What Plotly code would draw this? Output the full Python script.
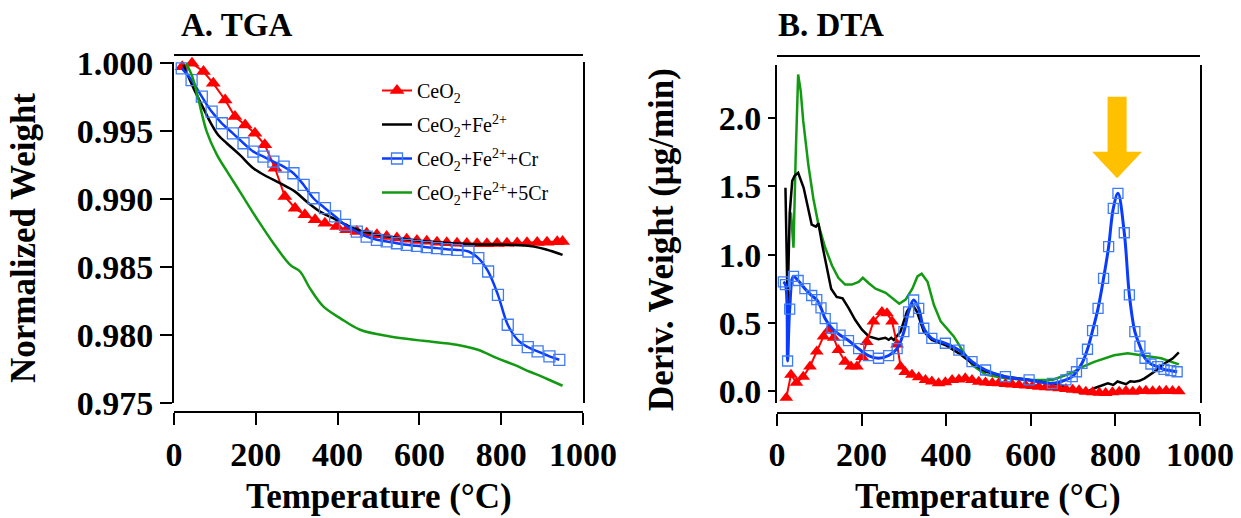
import plotly.graph_objects as go

# ---------------- data: A. TGA ----------------
tga_red_T = [20, 44, 72, 96, 125, 149, 174, 198, 222, 247, 271, 296, 320, 345, 369, 398, 422, 447, 471, 496,
             520, 545, 569, 594, 618, 643, 667, 692, 716, 741, 765, 790, 814, 839, 863, 888, 912, 937, 950]
tga_red_W = [0.99975, 1.0000, 0.99940, 0.99853, 0.99730, 0.99608, 0.99547, 0.99485, 0.99400, 0.99228,
             0.99020, 0.98934, 0.98885, 0.98848, 0.98824, 0.98799, 0.98775, 0.98762, 0.98750, 0.98738,
             0.98725, 0.98715, 0.98705, 0.98697, 0.98690, 0.98684, 0.98680, 0.98676, 0.98674, 0.98672,
             0.98672, 0.98674, 0.98676, 0.98678, 0.98680, 0.98682, 0.98684, 0.98686, 0.98688]

tga_black_T = [23, 48, 72, 88, 108, 129, 161, 194, 227, 259, 296, 324, 357, 389, 438, 487, 569, 650, 732,
               800, 850, 880, 910, 950]
tga_black_W = [0.99988, 0.99816, 0.99669, 0.99571, 0.99473, 0.99412, 0.99326, 0.99228, 0.99167, 0.99118,
               0.99056, 0.98983, 0.98909, 0.98860, 0.98787, 0.98745, 0.98706, 0.98681, 0.98669, 0.98666,
               0.98662, 0.98651, 0.98630, 0.98590]

tga_blue_T = [19, 43, 68, 92, 117, 144, 170, 194, 219, 243, 268, 292, 317, 341, 369, 394, 418, 447, 471, 496,
              520, 545, 569, 594, 618, 643, 667, 692, 720, 744, 768, 792, 816, 840, 865, 889, 918, 942]
tga_blue_W = [0.99963, 0.99877, 0.99755, 0.99645, 0.99559, 0.99485, 0.99412, 0.99350, 0.99314, 0.99277,
              0.99240, 0.99191, 0.99105, 0.99007, 0.98934, 0.98873, 0.98811, 0.98762, 0.98725, 0.98701,
              0.98689, 0.98676, 0.98664, 0.98657, 0.98647, 0.98640, 0.98632, 0.98627, 0.98615, 0.98566,
              0.98468, 0.98296, 0.98076, 0.97965, 0.97912, 0.97880, 0.97843, 0.97818]

tga_green_T = [30, 45, 59, 80, 105, 130, 161, 202, 243, 284, 308, 332, 365, 406, 455, 528, 609, 691, 743,
               790, 831, 870, 898, 925, 950]
tga_green_W = [1.0000, 0.9990, 0.99743, 0.99498, 0.99326, 0.99203, 0.99056, 0.98860, 0.98676, 0.98517,
               0.98468, 0.98346, 0.98211, 0.98125, 0.98039, 0.97990, 0.97958, 0.97929, 0.97892, 0.97830,
               0.97782, 0.97730, 0.97696, 0.97660, 0.97627]

# ---------------- data: B. DTA ----------------
dta_red_T = [22, 33, 46, 62, 78, 94, 110, 123, 134, 145, 161, 175, 189, 201, 212, 228, 248, 260, 272, 284,
             292, 303, 319, 335, 351, 366, 382, 398, 414, 430, 445, 461, 477, 493, 509, 524, 540, 556, 572, 588,
             604, 619, 635, 651, 667, 683, 699, 714, 730, 746, 762, 777, 793, 809, 825, 841, 857, 872, 888, 904,
             920, 935, 950]
dta_red_D = [-0.05, 0.12, 0.06, 0.105, 0.18, 0.29, 0.40, 0.45, 0.39, 0.30, 0.215, 0.18, 0.18, 0.25, 0.36,
             0.51, 0.58, 0.57, 0.51, 0.34, 0.18, 0.14, 0.12, 0.10, 0.08, 0.07, 0.056, 0.065, 0.081, 0.085,
             0.093, 0.08, 0.068, 0.062, 0.058, 0.056, 0.052, 0.048, 0.044, 0.04, 0.036, 0.032, 0.028, 0.025,
             0.02, 0.015, 0.01, 0.005, -0.005, -0.01, -0.012, -0.015, -0.01, -0.005, 0.0, -0.005, 0.0, 0.002,
             -0.002, 0.0, 0.002, 0.0, -0.002]

dta_black_T = [20, 25, 30, 36, 42, 50, 63, 75, 82, 92, 98, 107, 118, 128, 141, 155, 169, 185, 201, 217,
               240, 256, 264, 270, 276, 292, 307, 319, 331, 347, 366, 398, 430, 461, 493, 541, 596, 623, 651, 671,
               695, 718, 730, 750, 782, 795, 805, 813, 825, 835, 845, 857, 869, 892, 916, 936, 950]
dta_black_D = [1.49, 0.63, 1.30, 1.54, 1.58, 1.60, 1.49, 1.32, 1.22, 1.205, 1.23, 1.07, 0.90, 0.75, 0.69,
               0.68, 0.61, 0.52, 0.45, 0.40, 0.38, 0.39, 0.375, 0.39, 0.374, 0.435, 0.58, 0.64, 0.58, 0.435,
               0.374, 0.337, 0.276, 0.203, 0.142, 0.105, 0.081, 0.068, 0.056, 0.044, 0.007, -0.012, -0.01,
               0.02, 0.056, 0.045, 0.07, 0.061, 0.05, 0.072, 0.068, 0.075, 0.093, 0.141, 0.202, 0.24, 0.284]

dta_blue_T = [15, 20, 25, 30, 39, 50, 66, 82, 94, 104, 114, 130, 149, 169, 193, 216, 240, 264, 284, 300,
              311, 323, 335, 347, 366, 398, 430, 461, 493, 540, 596, 651, 683, 698, 708, 721, 734, 746, 759, 772,
              784, 795, 806, 821, 833, 846, 858, 870, 884, 900, 915, 931, 946]
dta_blue_D = [0.80, 0.78, 0.22, 0.60, 0.84, 0.81, 0.75, 0.70, 0.67, 0.61, 0.53, 0.46, 0.41, 0.37, 0.31,
              0.26, 0.24, 0.26, 0.31, 0.435, 0.58, 0.667, 0.606, 0.46, 0.386, 0.35, 0.30, 0.215, 0.154, 0.105,
              0.081, 0.056, 0.081, 0.105, 0.141, 0.203, 0.306, 0.442, 0.606, 0.826, 1.058, 1.339, 1.449, 1.16,
              0.704, 0.435, 0.329, 0.24, 0.198, 0.178, 0.158, 0.149, 0.141]

dta_green_T = [33, 39, 44, 50, 56, 62, 74, 86, 98, 114, 130, 145, 161, 177, 193, 203, 217, 233, 257, 273,
               289, 304, 320, 332, 342, 356, 371, 387, 402, 418, 438, 462, 493, 540, 595, 623, 651, 683, 702, 714,
               750, 797, 829, 861, 908, 950]
dta_green_D = [1.31, 1.05, 1.70, 2.32, 2.20, 1.98, 1.66, 1.41, 1.22, 1.05, 0.92, 0.83, 0.78, 0.78, 0.80,
               0.83, 0.79, 0.75, 0.72, 0.68, 0.64, 0.67, 0.75, 0.84, 0.86, 0.80, 0.63, 0.51, 0.46, 0.40, 0.30,
               0.19, 0.12, 0.093, 0.081, 0.08, 0.081, 0.117, 0.141, 0.166, 0.214, 0.262, 0.276, 0.262, 0.240,
               0.195]

series_names = ["CeO<sub>2</sub>", "CeO<sub>2</sub>+Fe<sup>2+</sup>",
                "CeO<sub>2</sub>+Fe<sup>2+</sup>+Cr", "CeO<sub>2</sub>+Fe<sup>2+</sup>+5Cr"]

x_ticks = [0, 200, 400, 600, 800, 1000]
tga_ticks = [0.975, 0.980, 0.985, 0.990, 0.995, 1.000]
tga_tick_text = ["0.975", "0.980", "0.985", "0.990", "0.995", "1.000"]
dta_ticks = [0.0, 0.5, 1.0, 1.5, 2.0]
dta_tick_text = ["0.0", "0.5", "1.0", "1.5", "2.0"]

# highlighted DTA peak (arrow) in data units
arrow_T = 804
arrow_tip_D = 1.56
arrow_base_D = 1.754
arrow_top_D = 2.158
arrow_head_half = 59
arrow_shaft_half = 22.5

# ---------------- figure ----------------
W, H = 1241, 518
def px_x(p):
    return p / W
def px_y(p):
    return 1 - p / H

RED = "#ff0000"
BLACK = "#000000"
BLUE = "#0a3cff"
BLUE_MK = "#3f7cf5"
GREEN = "#139a13"
SERIF = "Liberation Serif"

fig = go.Figure()

# TGA traces (legend)
fig.add_trace(go.Scatter(x=tga_red_T, y=tga_red_W, name=series_names[0], mode="lines+markers",
                         line=dict(color=RED, width=2), marker=dict(symbol="triangle-up", size=13, color=RED),
                         cliponaxis=False, xaxis="x", yaxis="y", legendgroup="a"))
fig.add_trace(go.Scatter(x=tga_black_T, y=tga_black_W, name=series_names[1], mode="lines",
                         line=dict(color=BLACK, width=2.5, shape="spline"), xaxis="x", yaxis="y", legendgroup="b"))
fig.add_trace(go.Scatter(x=tga_blue_T, y=tga_blue_W, name=series_names[2], mode="lines+markers",
                         line=dict(color=BLUE, width=2.5, shape="spline"),
                         marker=dict(symbol="square-open", size=11, color=BLUE_MK, line=dict(width=1.3, color=BLUE_MK)),
                         cliponaxis=False, xaxis="x", yaxis="y", legendgroup="c"))
fig.add_trace(go.Scatter(x=tga_green_T, y=tga_green_W, name=series_names[3], mode="lines",
                         line=dict(color=GREEN, width=2.5, shape="spline"), xaxis="x", yaxis="y", legendgroup="d"))

# DTA traces
fig.add_trace(go.Scatter(x=dta_green_T, y=dta_green_D, name=series_names[3], mode="lines", showlegend=False,
                         line=dict(color=GREEN, width=2.5), xaxis="x2", yaxis="y2"))
fig.add_trace(go.Scatter(x=dta_black_T, y=dta_black_D, name=series_names[1], mode="lines", showlegend=False,
                         line=dict(color=BLACK, width=2.5), xaxis="x2", yaxis="y2"))
fig.add_trace(go.Scatter(x=dta_red_T, y=dta_red_D, name=series_names[0], mode="lines+markers", showlegend=False,
                         line=dict(color=RED, width=2), marker=dict(symbol="triangle-up", size=12, color=RED),
                         cliponaxis=False, xaxis="x2", yaxis="y2"))
fig.add_trace(go.Scatter(x=dta_blue_T, y=dta_blue_D, name=series_names[2], mode="lines+markers", showlegend=False,
                         line=dict(color=BLUE, width=3, shape="spline"),
                         marker=dict(symbol="square-open", size=10, color=BLUE_MK, line=dict(width=1.3, color=BLUE_MK)),
                         cliponaxis=False, xaxis="x2", yaxis="y2"))

tickfont = dict(family=SERIF, size=34, color="black", weight="bold")
common_x = dict(range=[0, 1000], tickvals=x_ticks, showline=True, linecolor="black", linewidth=2,
                ticks="outside", ticklen=12, tickwidth=2, tickcolor="black", showgrid=False,
                zeroline=False, tickfont=tickfont, anchor="free", automargin=False)
common_y = dict(showline=True, linecolor="black", linewidth=2, mirror=True, ticks="outside",
                tickwidth=2, tickcolor="black", showgrid=False, zeroline=False, tickfont=tickfont,
                automargin=False)

fig.update_layout(
    width=W, height=H,
    autosize=False,
    margin=dict(l=0, r=0, t=0, b=0, pad=0, autoexpand=False),
    paper_bgcolor="white", plot_bgcolor="white",
    font=dict(family=SERIF, color="black"),
    xaxis=dict(domain=[px_x(174), px_x(583)], position=px_y(412), **common_x),
    yaxis=dict(domain=[px_y(403), px_y(62)], range=[0.975, 1.0001], anchor="x", ticklen=12,
               tickvals=tga_ticks, ticktext=tga_tick_text, **common_y),
    xaxis2=dict(domain=[px_x(777), px_x(1200)], position=px_y(412.5), **common_x),
    yaxis2=dict(domain=[px_y(403), px_y(65)], range=[-0.088, 2.39], anchor="x2", ticklen=7,
                tickvals=dta_ticks, ticktext=dta_tick_text, **common_y),
    legend=dict(x=px_x(377), y=px_y(71), xanchor="left", yanchor="top", bgcolor="rgba(0,0,0,0)",
                font=dict(family=SERIF, size=20, color="black"), tracegroupgap=5, itemwidth=30),
    showlegend=True,
)

# frame lines above the plot areas
fig.add_shape(type="line", xref="paper", yref="paper", x0=px_x(174), x1=px_x(583), y0=px_y(55), y1=px_y(55),
              line=dict(color="black", width=2))
fig.add_shape(type="line", xref="paper", yref="paper", x0=px_x(777), x1=px_x(1200), y0=px_y(56), y1=px_y(56),
              line=dict(color="black", width=2))

# orange arrow marking the DTA peak
path = (f"M {arrow_T - arrow_shaft_half},{arrow_top_D} L {arrow_T + arrow_shaft_half},{arrow_top_D} "
        f"L {arrow_T + arrow_shaft_half},{arrow_base_D} L {arrow_T + arrow_head_half},{arrow_base_D} "
        f"L {arrow_T},{arrow_tip_D} L {arrow_T - arrow_head_half},{arrow_base_D} "
        f"L {arrow_T - arrow_shaft_half},{arrow_base_D} Z")
fig.add_shape(type="path", xref="x2", yref="y2", path=path, fillcolor="#ffc000", line=dict(width=0))

title_font = dict(family=SERIF, size=33, color="black", weight="bold")
axis_font = dict(family=SERIF, size=35, color="black", weight="bold")
ann = [
    dict(text="A. TGA", x=px_x(179), y=px_y(25), xanchor="left", yanchor="middle", font=title_font),
    dict(text="B. DTA", x=px_x(776), y=px_y(25), xanchor="left", yanchor="middle", font=title_font),
    dict(text="Temperature (°C)", x=px_x(378.5), y=px_y(496), xanchor="center", yanchor="middle", font=axis_font),
    dict(text="Temperature (°C)", x=px_x(988), y=px_y(496), xanchor="center", yanchor="middle", font=axis_font),
    dict(text="Normalized Weight", x=px_x(24), y=px_y(238), textangle=-90, xanchor="center", yanchor="middle",
         font=axis_font),
    dict(text="Deriv. Weight (μg/min)", x=px_x(662), y=px_y(240), textangle=-90, xanchor="center",
         yanchor="middle", font=axis_font),
]
for a in ann:
    fig.add_annotation(xref="paper", yref="paper", showarrow=False, **a)

fig.write_html("out.html", config={"responsive": False, "displayModeBar": False},
               post_script="document.body.style.margin='0';document.body.style.overflow='hidden';")
